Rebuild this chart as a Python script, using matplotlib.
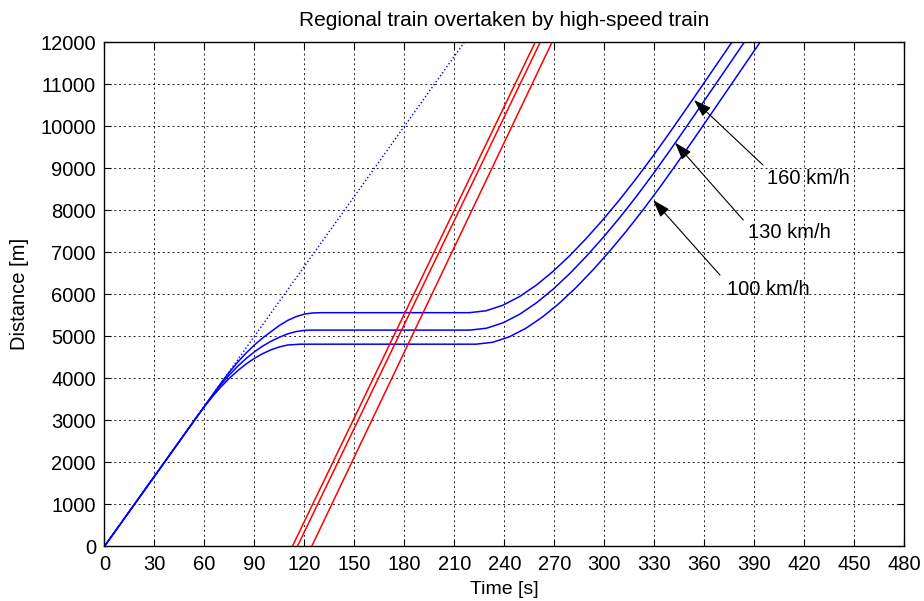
import matplotlib
matplotlib.use('Agg')
import matplotlib.pyplot as plt

plt.rcParams['font.family'] = ['Liberation Sans', 'DejaVu Sans']

# regional train running through without stopping (200 km/h)
free_t = [0, 216]
free_d = [0, 12000]

# regional trains braking into the siding, waiting, then accelerating again
top_t = [0, 50, 68.6, 70, 75, 80, 85, 90, 95, 100, 105, 110, 115, 120, 125, 130,
         219, 229, 239, 249, 259, 269, 279, 289, 299, 309, 319, 329, 339, 349, 359, 369, 379]
top_d = [0, 2778, 3811, 3888, 4148, 4386, 4601, 4794, 4964, 5112, 5260, 5380, 5470, 5530, 5558, 5565,
         5565, 5610, 5740, 5945, 6215, 6540, 6912, 7325, 7770, 8245, 8750, 9282, 9838, 10408, 10985, 11565, 12145]

mid_t = [0, 50, 61.4, 65, 70, 75, 80, 85, 90, 95, 100, 105, 110, 115, 120, 123.1,
         219.3, 229.3, 239.3, 249.3, 259.3, 269.3, 279.3, 289.3, 299.3, 309.3, 319.3, 329.3,
         339.3, 349.3, 359.3, 369.3, 379.3, 389.3]
mid_d = [0, 2778, 3411, 3605, 3855, 4083, 4289, 4472, 4632, 4770, 4885, 4980, 5060, 5115, 5143, 5150,
         5150, 5195, 5325, 5530, 5800, 6125, 6497, 6910, 7355, 7830, 8335, 8867,
         9422, 9992, 10570, 11150, 11730, 12310]

low_t = [0, 50, 55.9, 60, 65, 70, 75, 80, 85, 90, 95, 100, 105, 110, 117.6,
         223, 233, 243, 253, 263, 273, 283, 293, 303, 313, 323, 333, 343, 353, 363, 373, 383, 393, 403]
low_d = [0, 2778, 3106, 3326, 3574, 3800, 4003, 4184, 4342, 4477, 4590, 4681, 4749, 4795, 4815,
         4815, 4860, 4990, 5195, 5465, 5790, 6162, 6575, 7020, 7495, 8000, 8532, 9087, 9657,
         10235, 10815, 11395, 11975, 12555]

# high-speed trains (300 km/h): time at 0 m and at 12000 m
hs_start = [112.8, 115.8, 124.4]
hs_end = [258.5, 261.5, 268.6]

labels = ['160 km/h', '130 km/h', '100 km/h']
arrow_tip = [(353.8, 10626), (342.4, 9612), (329.3, 8245)]
arrow_tail = [(395.2, 9079), (383.4, 7769), (369.4, 6460)]
label_pos = [(397.6, 8757), (386.2, 7480), (373.6, 6126)]

fig = plt.figure(figsize=(9.24, 6.01), dpi=100)
ax = fig.add_axes([0.1129, 0.0907, 0.8658, 0.8389])

ax.plot(free_t, free_d, color='blue', linestyle=':', linewidth=1.0)
for t, d in [(top_t, top_d), (mid_t, mid_d), (low_t, low_d)]:
    ax.plot(t, d, color='blue', linewidth=1.1)
for t0, t1 in zip(hs_start, hs_end):
    ax.plot([t0, t1], [0, 12000], color='red', linewidth=1.1)

for lab, tip, tail, pos in zip(labels, arrow_tip, arrow_tail, label_pos):
    ax.annotate('', xy=tip, xytext=tail,
                arrowprops=dict(arrowstyle='-|>,head_length=0.9,head_width=0.3',
                                color='black', lw=0.8, mutation_scale=12,
                                shrinkA=0, shrinkB=0))
    ax.text(pos[0], pos[1], lab, ha='left', va='center', fontsize=14.5)

ax.set_xlim(0, 480)
ax.set_ylim(0, 12000)
ax.set_xticks(range(0, 481, 30))
ax.set_yticks(range(0, 12001, 1000))
ax.tick_params(direction='in', top=True, right=True, length=5, labelsize=14.5,
               width=0.8, pad=6)
ax.grid(True, color='#222222', linestyle=(0, (2, 3)), linewidth=0.7)
for s in ax.spines.values():
    s.set_linewidth(1.0)

ax.set_xlabel('Time [s]', fontsize=14, labelpad=5)
ax.set_ylabel('Distance [m]', fontsize=14.5, labelpad=8)
ax.set_title('Regional train overtaken by high-speed train', fontsize=15, pad=12)

fig.savefig('out.png', dpi=100)
